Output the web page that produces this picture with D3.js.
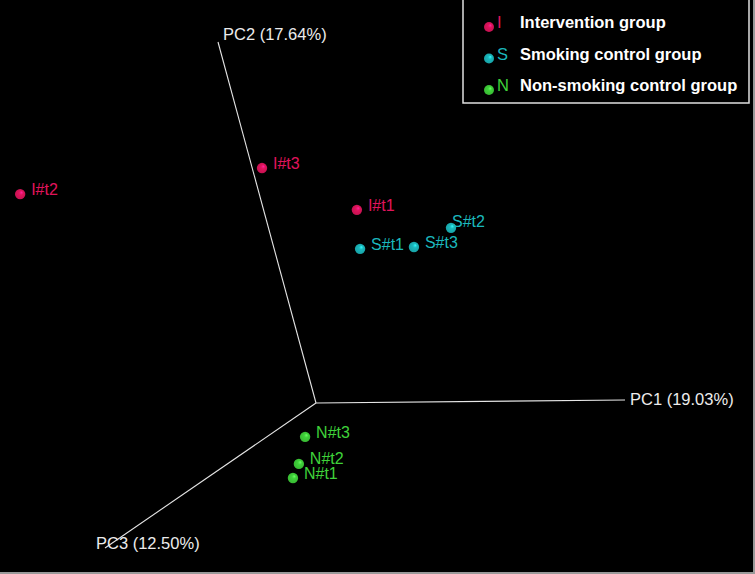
<!DOCTYPE html>
<html>
<head>
<meta charset="utf-8">
<script src="https://cdn.jsdelivr.net/npm/d3@7"></script>
<style>
  body { margin: 0; background: #000; }
  svg { display: block; }
</style>
</head>
<body>
<div id="chart"></div>
<script>
// sample scores on the first three components (axis length = 1)
const samples = ["I#t1", "I#t2", "I#t3", "S#t1", "S#t2", "S#t3", "N#t1", "N#t2", "N#t3"];
const groups = ["I", "I", "I", "S", "S", "S", "N", "N", "N"];
const pc1 = [0.382, -0.287, 0.274, 0.237, 0.468, 0.372, 0.264, 0.255, 0.218];
const pc2 = [0.572, 0.822, 0.769, 0.405, 0.421, 0.389, -0.009, 0.010, 0.045];
const pc3 = [0.10, 0.60, 0.30, -0.05, -0.15, -0.10, 0.50, 0.45, 0.35];

const axisNames = ["PC1 (19.03%)", "PC2 (17.64%)", "PC3 (12.50%)"];
const legendKeys = ["I", "S", "N"];
const legendNames = ["Intervention group", "Smoking control group", "Non-smoking control group"];

const W = 755, H = 574;
const color = d3.scaleOrdinal(legendKeys, ["#e0145c", "#1bb8bd", "#3fd23a"]);

// projected 3d frame
const origin = [316, 403];
const tips = [[625, 400], [218, 42], [105, 548]];
const labelOff = [[5, 5], [5, -2], [-9, 1]];

const sx = tips.map(t => d3.scaleLinear([0, 1], [0, t[0] - origin[0]]));
const sy = tips.map(t => d3.scaleLinear([0, 1], [0, t[1] - origin[1]]));

function project(i) {
  const v = [pc1[i], pc2[i], pc3[i]];
  return [
    origin[0] + d3.sum(v, (d, k) => sx[k](d)),
    origin[1] + d3.sum(v, (d, k) => sy[k](d))
  ];
}

const svg = d3.select("#chart").append("svg")
  .attr("width", W).attr("height", H)
  .style("font-family", "'Liberation Sans', Arial, sans-serif");

svg.append("rect").attr("width", W).attr("height", H).attr("fill", "#000");

// sphere shading
const defs = svg.append("defs");
legendKeys.forEach(k => {
  const g = defs.append("radialGradient").attr("id", "ball" + k)
    .attr("cx", "50%").attr("cy", "50%").attr("r", "55%")
    .attr("fx", "65%").attr("fy", "32%");
  g.append("stop").attr("offset", "0%").attr("stop-color", d3.color(color(k)).brighter(1.6));
  g.append("stop").attr("offset", "35%").attr("stop-color", color(k));
  g.append("stop").attr("offset", "100%").attr("stop-color", d3.color(color(k)).darker(0.4));
});

// axes
const ax = svg.append("g");
ax.selectAll("line").data(tips).join("line")
  .attr("x1", origin[0]).attr("y1", origin[1])
  .attr("x2", d => d[0]).attr("y2", d => d[1])
  .attr("stroke", "#e6e6e6").attr("stroke-width", 1.1);
ax.selectAll("text").data(axisNames).join("text")
  .attr("x", (d, i) => tips[i][0] + labelOff[i][0])
  .attr("y", (d, i) => tips[i][1] + labelOff[i][1])
  .attr("fill", "#ececec").attr("font-size", 16.5)
  .text(d => d);

// points
const idx = d3.range(samples.length);
const pts = svg.append("g").selectAll("g").data(idx).join("g")
  .attr("transform", i => `translate(${project(i)})`);
pts.append("circle").attr("r", 5.2)
  .attr("fill", i => `url(#ball${groups[i]})`);
const nudge = { "S#t2": [-10, -2], "N#t2": [0, -1] };
pts.append("text")
  .attr("x", i => 11 + (nudge[samples[i]] || [0, 0])[0])
  .attr("y", i => 1 + (nudge[samples[i]] || [0, 0])[1])
  .attr("fill", i => color(groups[i]))
  .attr("font-size", 16)
  .text(i => samples[i]);

// legend
const lg = svg.append("g");
lg.append("rect").attr("x", 463).attr("y", -2).attr("width", 286).attr("height", 105)
  .attr("fill", "#000").attr("stroke", "#e0e0e0").attr("stroke-width", 1.5);
const rowY = d3.scalePoint(legendKeys, [27, 90]);
const row = lg.selectAll("g.row").data(legendKeys).join("g").attr("class", "row")
  .attr("transform", d => `translate(0,${rowY(d)})`);
row.append("circle").attr("cx", 489).attr("r", 5).attr("fill", d => `url(#ball${d})`);
row.append("text").attr("x", 497).attr("y", 1).attr("fill", d => color(d))
  .attr("font-size", 16.5).text(d => d);
row.append("text").attr("x", 520).attr("y", 1).attr("fill", "#fff")
  .attr("font-size", 16.5).attr("font-weight", "bold")
  .text((d, i) => legendNames[i]);

// outer frame (right and bottom edges only)
svg.append("path").attr("d", `M0,${H - 1}H${W - 1}V0`)
  .attr("fill", "none").attr("stroke", "#999").attr("stroke-width", 2);
</script>
</body>
</html>
